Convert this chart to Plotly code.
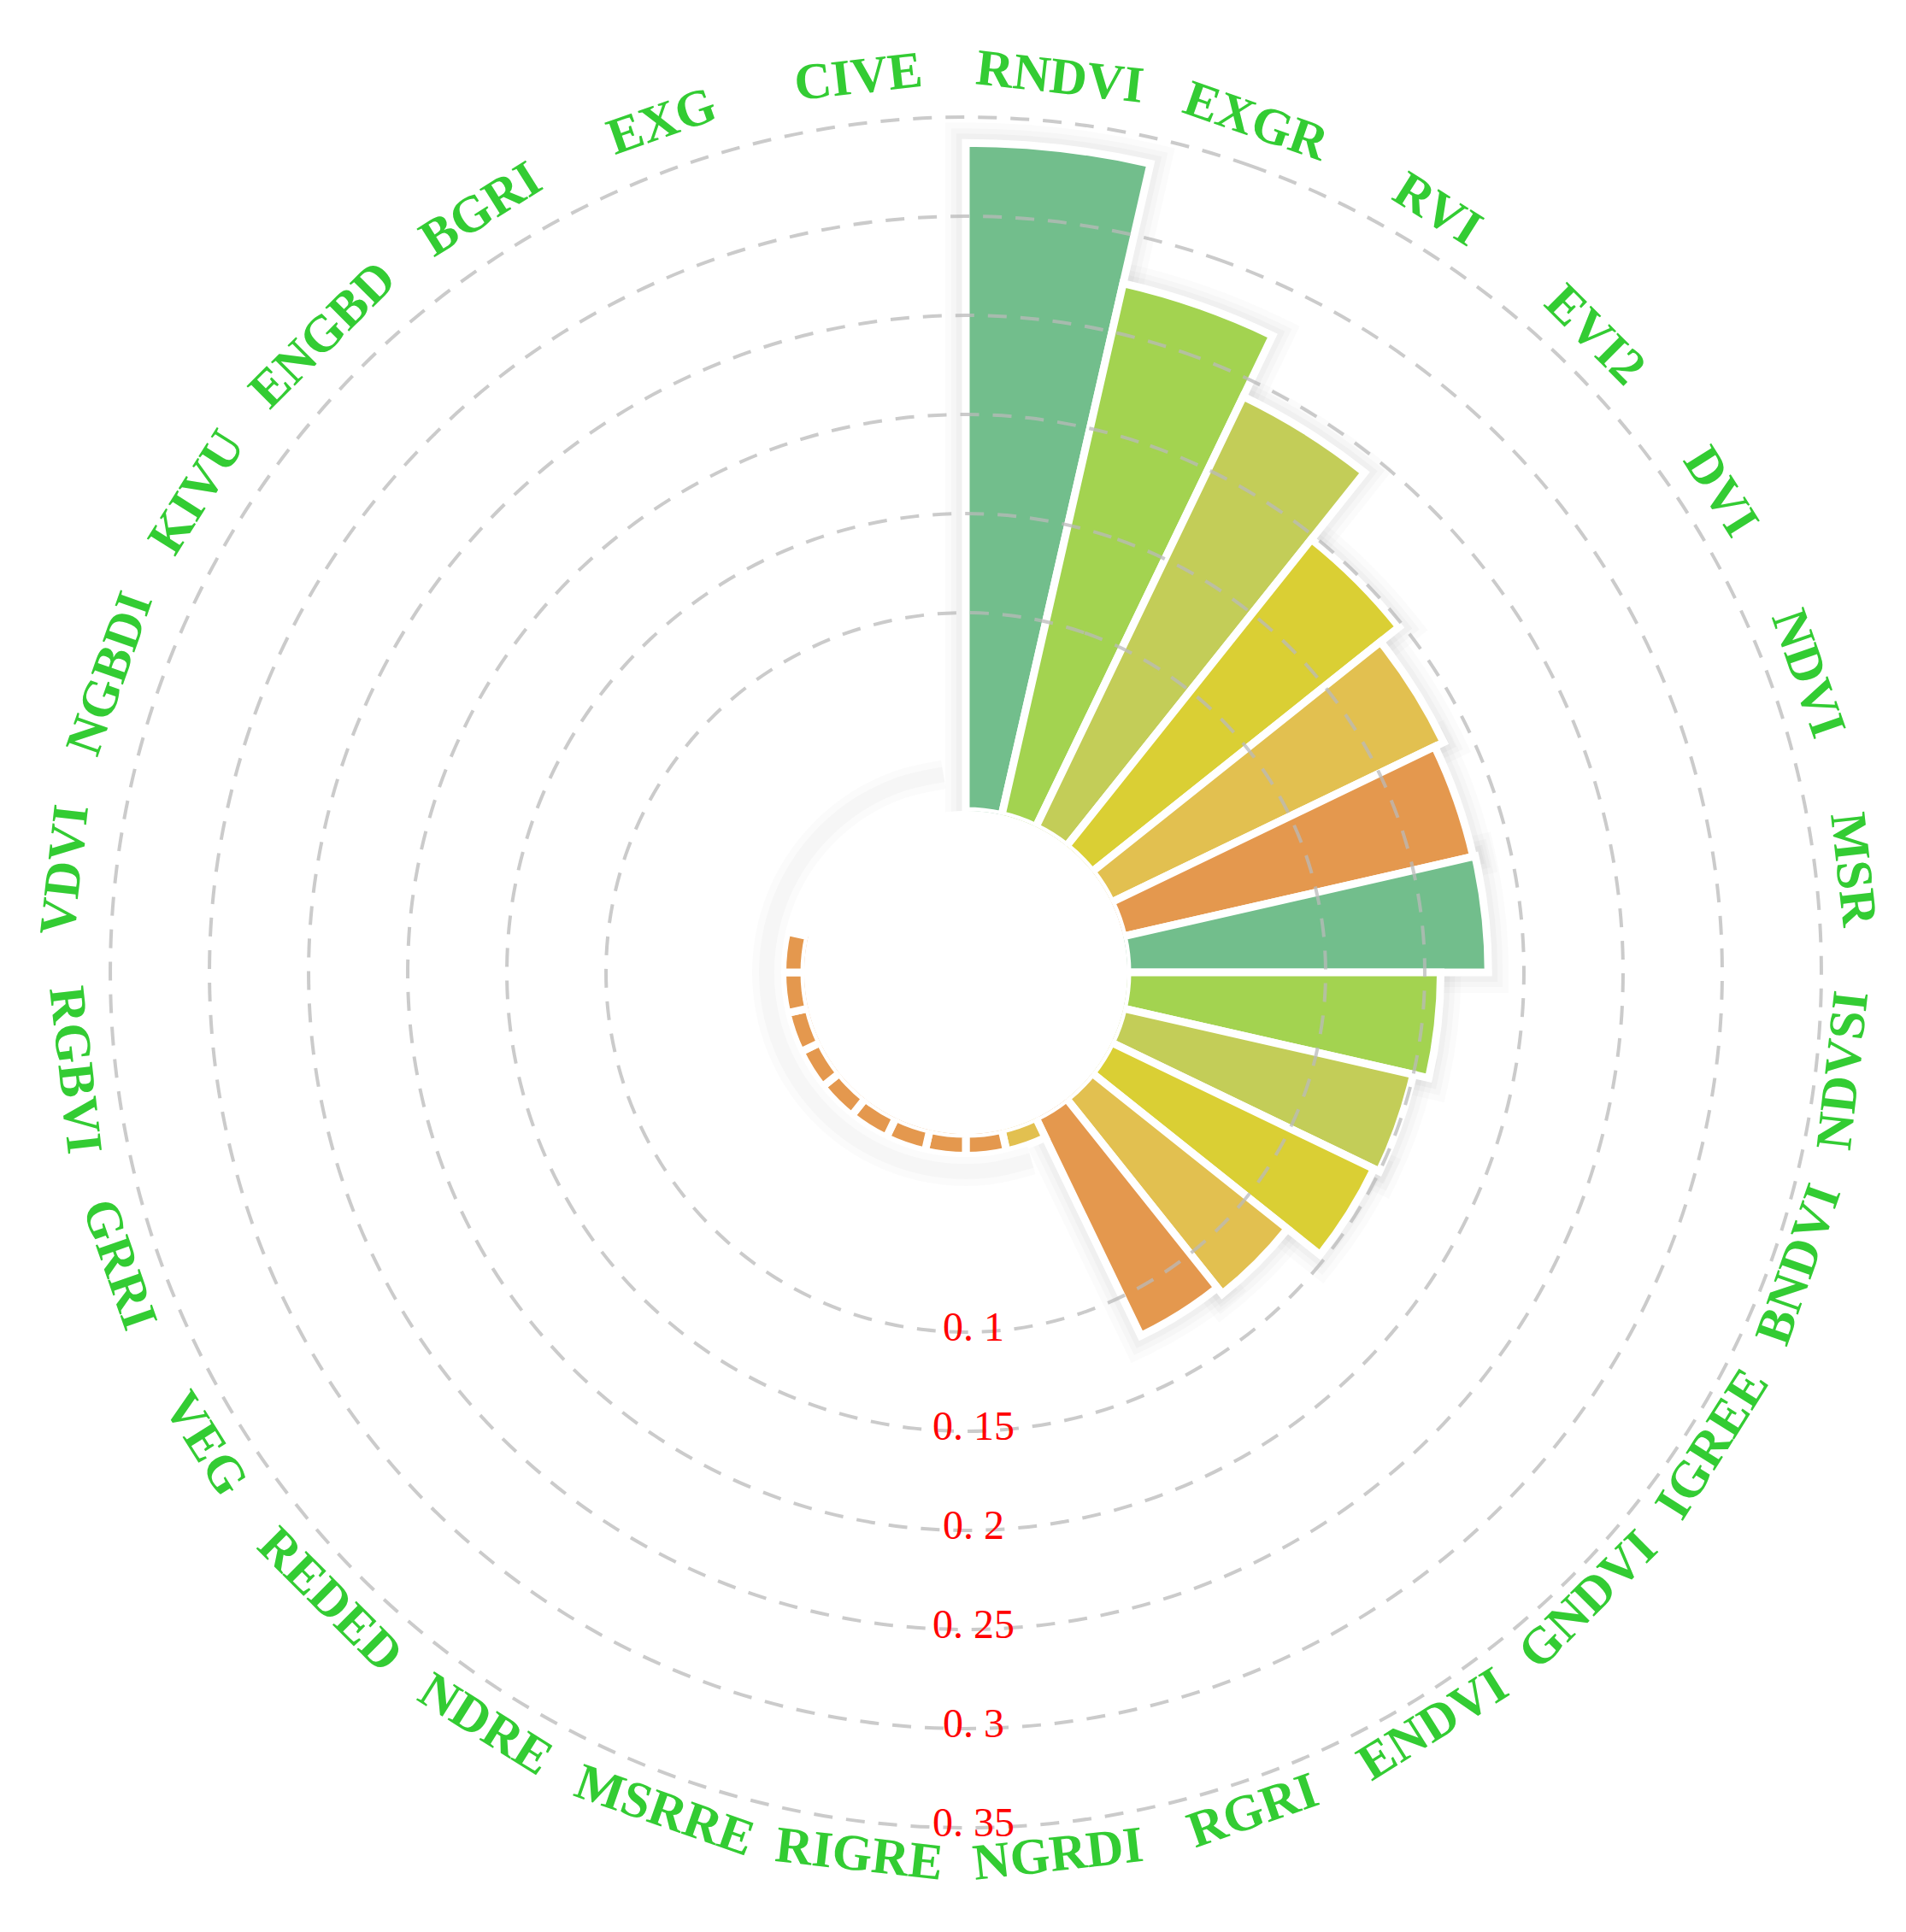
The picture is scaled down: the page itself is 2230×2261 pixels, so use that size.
import math
import plotly.graph_objects as go

# ---------------- data ----------------
categories = ["RNDVI", "EXGR", "RVI", "EVI2", "DVI", "NDVI", "MSR", "NDVSI",
              "BNDVI", "IGREE", "GNDVI", "ENDVI", "RGRI", "NGRDI", "RIGRE",
              "MSRRE", "NDRE", "REDED", "VEG", "GRRI", "RGBVI", "VDVI",
              "NGBDI", "KIVU", "ENGBD", "BGRI", "EXG", "CIVE"]
values = [0.337, 0.275, 0.241, 0.198, 0.186, 0.181, 0.182, 0.158,
          0.150, 0.147, 0.126, 0.122, 0.011, 0.011, 0.011,
          0.011, 0.011, 0.011, 0.011, 0.011, 0.011, 0.011,
          0, 0, 0, 0, 0, 0]
bar_colors = ["#72be8c", "#a3d350", "#c3cd58", "#dacf34", "#e2c050", "#e4984e",
              "#72be8c", "#a3d350", "#c3cd58", "#dacf34", "#e2c050", "#e4984e",
              "#e2c050", "#e4984e", "#e4984e", "#e4984e", "#e4984e", "#e4984e",
              "#e4984e", "#e4984e", "#e4984e", "#e4984e",
              "#e4984e", "#e4984e", "#e4984e", "#e4984e", "#e4984e", "#e4984e"]
tick_values = [0.1, 0.15, 0.2, 0.25, 0.3, 0.35]
tick_labels = ["0. 1", "0. 15", "0. 2", "0. 25", "0. 3", "0. 35"]

# ---------------- geometry / style ----------------
W, H = 2230, 2261
CX, CY = 1122, 1130          # polar centre in px (from top-left)
R0 = 189                     # hole radius px
K = 2320                     # px per radial unit
RMAX = 0.36
ROUT = R0 + K * RMAX
N = len(categories)
STEP = 360.0 / N
LABEL_R = 1047               # px radius of category labels
LABEL_DX, LABEL_DY = -8, -2  # small offset of the label ring centre
TEXT_SHIFT = 7               # visual centring of text boxes

dom_x = [(CX - ROUT) / W, (CX + ROUT) / W]
dom_y = [(H - CY - ROUT) / H, (H - CY + ROUT) / H]


def to_px(rad_px, compass_deg, cx=CX, cy=CY):
    t = math.radians(compass_deg)
    return cx + rad_px * math.sin(t), cy - rad_px * math.cos(t)


fig = go.Figure()

# soft shadow behind bars
sh_theta = [c for c, v in zip(categories, values) if v > 0.05]
sh_r = [v for v in values if v > 0.05]
for w, a in [(48, 0.014), (34, 0.018), (22, 0.024)]:
    fig.add_trace(go.Barpolar(
        theta=sh_theta, r=sh_r,
        marker=dict(color="rgba(0,0,0,0)",
                    line=dict(color="rgba(0,0,0,%s)" % a, width=w)),
        hoverinfo="skip", showlegend=False))

# main bars
fig.add_trace(go.Barpolar(
    theta=categories, r=values,
    marker=dict(color=bar_colors, line=dict(color="white", width=9)),
    showlegend=False))

# soft shadow arc round the hole where there are no tall bars
arc_theta = [c for c, v in zip(categories, values) if v < 0.05]
for w, a in [(34, 0.014), (18, 0.02)]:
    fig.add_trace(go.Scatterpolar(
        theta=arc_theta, r=[0.019] * len(arc_theta), mode="lines",
        line=dict(color="rgba(0,0,0,%s)" % a, width=w, shape="spline"),
        hoverinfo="skip", showlegend=False))

# dashed grid circles drawn above the bars
for tv in tick_values:
    fig.add_trace(go.Scatterpolar(
        theta=categories + [categories[0]], r=[tv] * (N + 1),
        mode="lines",
        line=dict(color="rgba(185,185,185,0.75)", width=4, dash="22px,16px",
                  shape="spline"),
        hoverinfo="skip", showlegend=False))

annotations = []
# category labels, tangential
for i, name in enumerate(categories):
    ang = (i + 0.5) * STEP
    if 90 < ang < 270:
        ta = ang - 180
    else:
        ta = ang if ang <= 180 else ang - 360
    xp, yp = to_px(LABEL_R, ang, CX + LABEL_DX, CY + LABEL_DY)
    xp += TEXT_SHIFT * math.sin(math.radians(ta))
    yp -= TEXT_SHIFT * math.cos(math.radians(ta))
    annotations.append(dict(
        x=xp / W, y=1 - yp / H, xref="paper", yref="paper",
        text="<b>%s</b>" % name,
        showarrow=False, textangle=ta, xanchor="center", yanchor="middle",
        font=dict(family="Liberation Serif", size=60, color="#33cc33")))

# radial tick labels along the bottom
for tv, tl in zip(tick_values, tick_labels):
    xp, yp = to_px(R0 + K * tv, 180)
    annotations.append(dict(
        x=(xp + 9) / W, y=1 - (yp - TEXT_SHIFT) / H, xref="paper", yref="paper",
        text=tl, showarrow=False, xanchor="center", yanchor="middle",
        font=dict(family="Liberation Serif", size=48, color="#ff0000")))

fig.update_layout(
    width=W, height=H,
    margin=dict(l=0, r=0, t=0, b=0),
    paper_bgcolor="white",
    showlegend=False,
    annotations=annotations,
    polar=dict(
        domain=dict(x=dom_x, y=dom_y),
        hole=R0 / ROUT,
        bgcolor="rgba(0,0,0,0)",
        bargap=0,
        barmode="overlay",
        angularaxis=dict(type="category", categoryorder="array",
                         categoryarray=categories,
                         rotation=90 - STEP / 2, direction="clockwise",
                         showgrid=False, showline=False,
                         showticklabels=False, ticks=""),
        radialaxis=dict(range=[0, RMAX], showgrid=False, showline=False,
                        showticklabels=False, ticks=""),
    ),
)

fig.write_html("out.html")
